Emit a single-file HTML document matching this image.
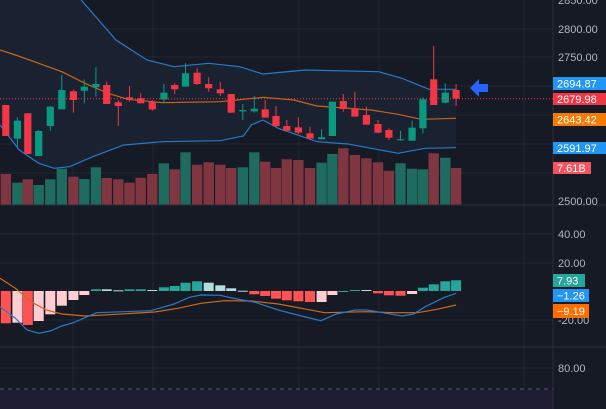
<!DOCTYPE html>
<html><head><meta charset="utf-8"><style>
html,body{margin:0;padding:0;background:#161a25;width:606px;height:409px;overflow:hidden}
svg{display:block}
text{font-family:"Liberation Sans",sans-serif;font-size:11px}
</style></head><body>
<svg id="s" width="606" height="409" xmlns="http://www.w3.org/2000/svg">
<rect width="606" height="409" fill="#161a25"/>
<g id="grid" stroke="#232735" stroke-width="1">
<line x1="73" y1="0" x2="73" y2="409"/><line x1="153" y1="0" x2="153" y2="409"/>
<line x1="299" y1="0" x2="299" y2="409"/><line x1="379" y1="0" x2="379" y2="409"/>
<line x1="524" y1="0" x2="524" y2="409"/>
<line x1="0" y1="29" x2="553" y2="29"/><line x1="0" y1="57" x2="553" y2="57"/>
<line x1="0" y1="86" x2="553" y2="86"/><line x1="0" y1="115" x2="553" y2="115"/>
<line x1="0" y1="144" x2="553" y2="144"/><line x1="0" y1="173" x2="553" y2="173"/>
<line x1="0" y1="234" x2="553" y2="234"/><line x1="0" y1="263" x2="553" y2="263"/>
<line x1="0" y1="320" x2="553" y2="320"/><line x1="0" y1="368" x2="553" y2="368"/>
</g>
<g id="g"></g>
<rect x="0" y="390" width="553" height="19" fill="#1e1c33"/>
<line x1="0" y1="389" x2="553" y2="389" stroke="#5a5e70" stroke-dasharray="4,4"/>
<line x1="0" y1="205" x2="606" y2="205" stroke="#2a2e39"/>
<line x1="0" y1="347" x2="606" y2="347" stroke="#2a2e39"/>
<line x1="553" y1="0" x2="553" y2="409" stroke="#2a2e39"/>
<line x1="0" y1="98.7" x2="553" y2="98.7" stroke="#f23645" stroke-dasharray="1,2" stroke-width="1"/>
<polygon points="470,88 479,79 479,84 488,84 488,92 479,92 479,97" fill="#2962ff"/>
<g fill="#b2b5be">
<text x="558" y="4">2850.00</text>
<text x="558" y="33">2800.00</text>
<text x="558" y="61">2750.00</text>
<text x="558" y="205">2500.00</text>
<text x="558" y="238">40.00</text>
<text x="558" y="267">20.00</text>
<text x="558" y="324">-20.00</text>
<text x="558" y="372">80.00</text>
</g>
<rect x="553" y="77" width="53" height="13" fill="#2196f3"/><text x="557" y="87.5" fill="#fff">2694.87</text>
<rect x="553" y="93" width="53" height="12" fill="#f23645"/><text x="557" y="103" fill="#fff">2679.98</text>
<rect x="553" y="113" width="53" height="13" fill="#f57c00"/><text x="557" y="123.5" fill="#fff">2643.42</text>
<rect x="553" y="142" width="53" height="12" fill="#2196f3"/><text x="557" y="152" fill="#fff">2591.97</text>
<rect x="553" y="162" width="38" height="12" fill="#f7525f"/><text x="557" y="172" fill="#fff">7.61B</text>
<rect x="553" y="274" width="32" height="13" fill="#26a69a"/><text x="557" y="284.5" fill="#fff">7.93</text>
<rect x="553" y="289" width="36" height="13" fill="#2196f3"/><text x="557" y="299.5" fill="#fff">−1.26</text>
<rect x="553" y="304" width="36" height="14" fill="#ff6d00"/><text x="557" y="315" fill="#fff">−9.19</text>
</svg>
<script>
var X=function(z){return z/2.587}, Y=function(z){return z/3}, Y2=function(z){return 200+z/3};
var g=document.getElementById('g'),h='';
var xs=[15,45,72,100,130,160,190,218,248,276,306,335,364,394,424,452,480,510,540,570,598,628,658,686,714,742,772,802,832,860,888,918,948,978,1006,1036,1066,1094,1122,1152,1180];
function path(pts,f){return pts.map(function(p,i){return (i?'L':'M')+X(p[0]).toFixed(1)+','+f(p[1]).toFixed(1)}).join('')}
var up=[[210,0],[300,120],[380,180],[450,200],[540,190],[620,200],[680,222],[790,210],[980,215],[1040,235],[1110,268],[1180,268]];
var lo=[[0,375],[50,450],[100,490],[140,505],[180,500],[240,470],[320,435],[420,425],[570,422],[630,408],[650,375],[680,360],[720,385],[820,425],[900,432],[1030,460],[1100,445],[1180,443]];
var mid=[[0,150],[40,165],[100,190],[160,215],[220,250],[280,280],[330,298],[420,308],[570,305],[680,292],[760,300],[820,318],[900,325],[960,330],[1030,343],[1090,358],[1180,355]];
var fillPts=[[0,-10],[180,-10]].concat(up).concat(lo.slice().reverse());
h+='<path d="'+path(fillPts,Y)+'Z" fill="#1a2232"/>';
var vt=[522,548,538,555,538,506,530,537,502,534,538,548,533,522,490,508,457,494,487,494,504,502,457,485,504,478,480,504,488,462,445,465,475,487,512,490,506,508,460,473,504];
var c=[[0,315,408,315,408],[1,362,416,352,440],[0,340,462,340,462],[1,393,468,390,468],[1,320,378,318,392],[1,270,328,225,328],[0,274,300,268,338],[1,260,272,238,310],[1,252,262,202,290],[0,255,312,245,312],[0,307,318,300,378],[0,292,300,258,305],[0,295,310,280,310],[0,305,328,300,332],[1,278,298,252,308],[0,255,268,250,282],[1,220,260,190,260],[0,218,252,205,255],[0,252,265,232,275],[0,268,280,245,288],[0,282,338,282,338],[1,330,334,312,360],[1,326,334,288,338],[0,328,353,300,353],[0,348,378,318,380],[0,378,392,360,392],[0,382,398,352,402],[0,400,416,380,420],[1,412,418,388,418],[1,305,408,305,408],[0,303,327,282,335],[0,325,350,275,350],[0,345,374,320,374],[0,372,398,360,400],[0,390,413,385,420],[1,418,420,392,422],[1,383,422,362,422],[1,298,385,292,400],[0,238,315,137,315],[1,278,308,250,310],[0,270,296,252,318]];
for(var i=0;i<41;i++){var x=X(xs[i]);h+='<rect x="'+(x-5.2).toFixed(1)+'" y="'+Y(vt[i]).toFixed(1)+'" width="10.4" height="'+(205-Y(vt[i])).toFixed(1)+'" fill="'+(c[i][0]?'#1f6b5f':'#7f3641')+'"/>';}
h+='<path d="'+path(up,Y)+'" fill="none" stroke="#2a79c4" stroke-width="1.2"/>';
h+='<path d="'+path(lo,Y)+'" fill="none" stroke="#2a79c4" stroke-width="1.2"/>';
h+='<path d="'+path(mid,Y)+'" fill="none" stroke="#c8641a" stroke-width="1.2"/>';
for(var i=0;i<41;i++){var x=X(xs[i]),d=c[i],col=d[0]?'#089981':'#f23645';
h+='<line x1="'+x.toFixed(1)+'" x2="'+x.toFixed(1)+'" y1="'+Y(d[3]).toFixed(1)+'" y2="'+Y(d[4]).toFixed(1)+'" stroke="'+col+'"/>';
var t=Y(d[1]),b=Y(d[2]);if(b-t<1)b=t+1;
h+='<rect x="'+(x-3.6).toFixed(1)+'" y="'+t.toFixed(1)+'" width="7.2" height="'+(b-t).toFixed(1)+'" fill="'+col+'"/>';}
var mh=[[370,'r'],[368,'p'],[375,'r'],[363,'p'],[343,'p'],[317,'p'],[300,'p'],[285,'p'],[268,'g'],[268,'l'],[271,'l'],[268,'g'],[268,'g'],[270,'l'],[262,'g'],[258,'g'],[248,'g'],[244,'g'],[248,'l'],[256,'l'],[265,'l'],[272,'l'],[283,'r'],[288,'r'],[296,'r'],[301,'r'],[304,'r'],[306,'r'],[306,'p'],[285,'p'],[274,'g'],[270,'g'],[270,'l'],[280,'r'],[286,'r'],[287,'r'],[282,'p'],[263,'g'],[253,'g'],[244,'g'],[241,'g']];
var cols={r:'#ff5252',p:'#ffcdd2',g:'#26a69a',l:'#b2dfdb'};
for(var i=0;i<41;i++){var x=X(xs[i]),z=Y2(273),v=Y2(mh[i][0]);var t=Math.min(z,v),hh=Math.max(Math.abs(v-z),1);
h+='<rect x="'+(x-5).toFixed(1)+'" y="'+t.toFixed(1)+'" width="10" height="'+hh.toFixed(1)+'" fill="'+cols[mh[i][1]]+'"/>';}
var mb=[[0,320],[40,355],[70,390],[100,400],[130,393],[160,378],[190,368],[250,338],[320,335],[390,332],[450,312],[490,292],[520,285],[570,286],[600,294],[660,307],[720,330],[770,345],[830,362],[870,342],[920,330],[950,330],[1040,348],[1070,342],[1100,320],[1150,292],[1180,280]];
var ms=[[0,235],[40,265],[80,305],[120,330],[160,342],[220,348],[300,343],[400,336],[460,325],[520,310],[580,302],[650,303],[720,312],[780,325],[840,338],[950,335],[1020,338],[1080,338],[1130,328],[1180,315]];
h+='<path d="'+path(ms,Y2)+'" fill="none" stroke="#d2691e" stroke-width="1.2"/>';
h+='<path d="'+path(mb,Y2)+'" fill="none" stroke="#2a79c4" stroke-width="1.2"/>';
g.innerHTML=h;
</script>
</body></html>
